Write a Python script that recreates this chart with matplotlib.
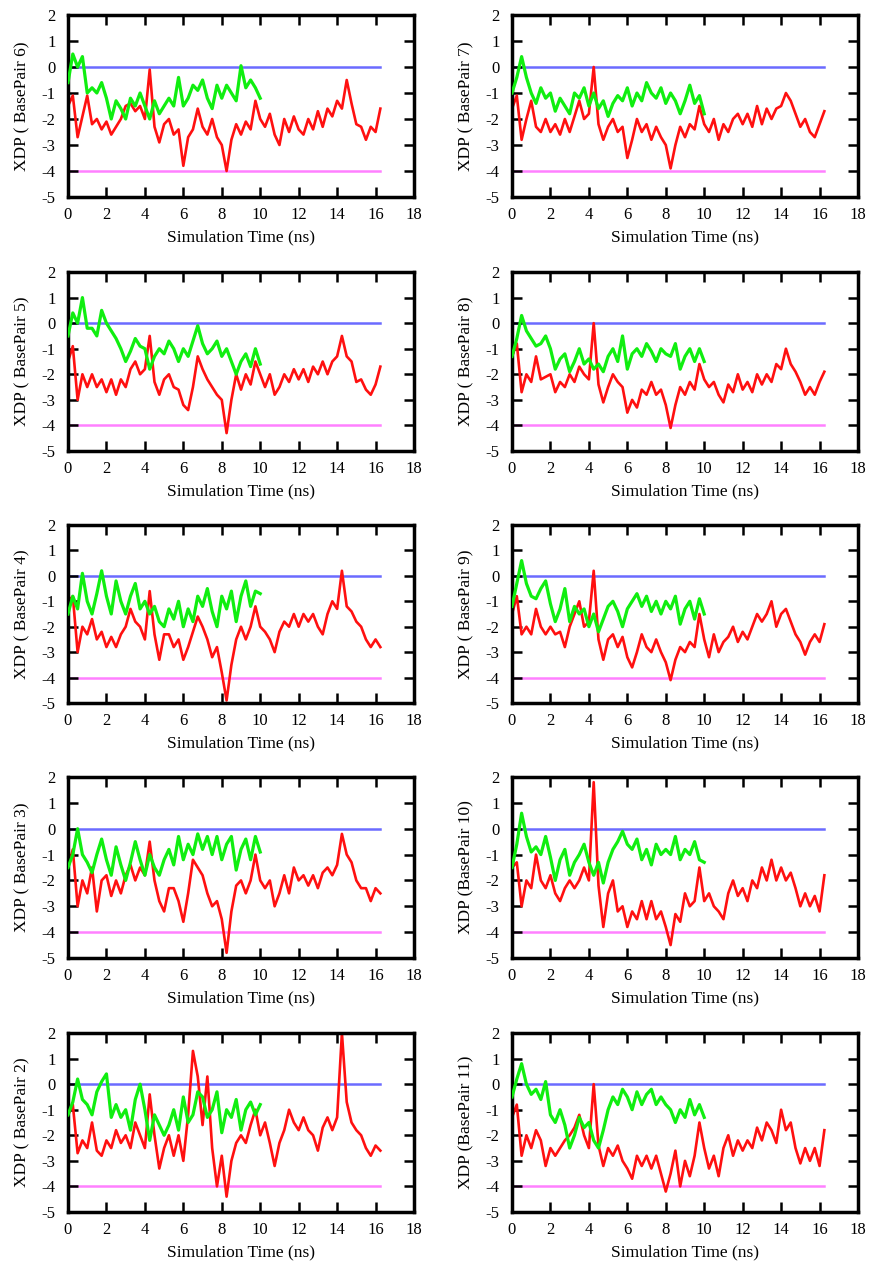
import numpy as np
import matplotlib
matplotlib.use('Agg')
import matplotlib.pyplot as plt

# PARAMS ----------------------------------------------------------------------
plt.rcParams['font.family'] = ['Liberation Serif', 'DejaVu Serif']
plt.rcParams['axes.unicode_minus'] = False   # plain hyphen minus like the original
plt.rc('xtick', labelsize=12)
plt.rc('ytick', labelsize=12)
plt.rc('axes', labelsize=12.5)
dt = 0.25          # sampling of the read-off traces (ns)
# END PARAMS ------------------------------------------------------------------

# XDP traces, one value every 0.25 ns
# red: 0 - 16.25 ns, green: 0 - 10 ns
red_bp6 = [-1.5, -1.1, -2.7, -1.9, -1.1, -2.2, -2.0, -2.4, -2.1, -2.6,
           -2.3, -2.0, -1.5, -1.4, -1.7, -1.5, -2.0, -0.1, -2.3, -2.9,
           -2.2, -2.0, -2.6, -2.4, -3.8, -2.7, -2.4, -1.6, -2.3, -2.6,
           -2.0, -2.7, -3.0, -4.0, -2.8, -2.2, -2.6, -2.1, -2.4, -1.3,
           -2.0, -2.3, -1.8, -2.6, -3.0, -2.0, -2.5, -1.9, -2.4, -2.6,
           -2.0, -2.4, -1.7, -2.3, -1.6, -1.9, -1.3, -1.6, -0.5, -1.4,
           -2.2, -2.3, -2.8, -2.3, -2.5, -1.6]
green_bp6 = [-0.6, 0.5, 0.0, 0.4, -1.0, -0.8, -1.0, -0.6, -1.2, -2.0,
             -1.3, -1.6, -2.0, -1.2, -1.5, -1.0, -1.5, -2.0, -1.3, -1.8,
             -1.5, -1.2, -1.5, -0.4, -1.5, -1.2, -0.7, -0.9, -0.5, -1.2,
             -1.6, -0.7, -1.2, -0.7, -1.0, -1.3, 0.05, -0.8, -0.5, -0.8,
             -1.2]

red_bp7 = [-1.6, -1.1, -2.8, -2.0, -1.3, -2.3, -2.5, -2.0, -2.5, -2.2,
           -2.6, -2.0, -2.5, -1.9, -1.3, -2.0, -1.8, 0.0, -2.2, -2.8,
           -2.3, -2.0, -2.5, -2.3, -3.5, -2.8, -2.0, -2.5, -2.2, -2.8,
           -2.3, -2.7, -3.0, -3.9, -3.0, -2.3, -2.7, -2.2, -2.4, -1.5,
           -2.2, -2.5, -2.0, -2.8, -2.2, -2.5, -2.0, -1.8, -2.2, -1.8,
           -2.3, -1.5, -2.2, -1.6, -2.0, -1.6, -1.5, -1.0, -1.3, -1.8,
           -2.3, -2.0, -2.5, -2.7, -2.2, -1.7]
green_bp7 = [-1.0, -0.4, 0.4, -0.4, -1.0, -1.4, -0.8, -1.2, -1.0, -1.7,
             -1.2, -1.5, -1.8, -1.0, -1.2, -0.8, -1.5, -1.0, -1.6, -1.3,
             -1.9, -1.4, -1.1, -1.3, -0.8, -1.5, -1.0, -1.3, -0.6, -1.0,
             -1.2, -0.8, -1.4, -1.0, -1.3, -1.8, -1.3, -0.7, -1.4, -1.1,
             -1.8]

red_bp5 = [-1.5, -0.9, -3.0, -2.0, -2.5, -2.0, -2.5, -2.2, -2.7, -2.2,
           -2.8, -2.2, -2.5, -1.8, -1.5, -2.0, -1.8, -0.5, -2.3, -2.8,
           -2.2, -2.0, -2.5, -2.6, -3.2, -3.4, -2.5, -1.3, -1.8, -2.2,
           -2.5, -2.8, -3.0, -4.3, -3.0, -2.0, -2.6, -2.0, -2.4, -1.5,
           -2.0, -2.5, -2.0, -2.8, -2.5, -2.0, -2.3, -1.8, -2.2, -1.8,
           -2.3, -1.7, -2.0, -1.5, -2.0, -1.5, -1.3, -0.5, -1.3, -1.5,
           -2.3, -2.2, -2.6, -2.8, -2.4, -1.7]
green_bp5 = [-0.5, 0.4, 0.0, 1.0, -0.2, -0.2, -0.5, 0.5, 0.0, -0.3,
             -0.6, -1.0, -1.5, -1.1, -0.6, -0.9, -1.0, -1.8, -1.3, -1.0,
             -1.2, -0.7, -1.0, -1.5, -1.0, -1.3, -0.7, -0.1, -0.8, -1.2,
             -1.0, -0.7, -1.3, -1.0, -1.5, -2.0, -1.5, -1.2, -1.7, -1.0,
             -1.6]

red_bp8 = [-1.3, -0.8, -2.7, -2.0, -2.3, -1.3, -2.2, -2.1, -2.0, -2.7,
           -2.3, -2.5, -2.0, -2.3, -1.7, -2.0, -2.2, 0.0, -2.4, -3.1,
           -2.5, -2.0, -2.3, -2.5, -3.5, -3.0, -3.3, -2.6, -2.8, -2.3,
           -2.8, -2.6, -3.2, -4.1, -3.2, -2.5, -2.8, -2.3, -2.6, -1.6,
           -2.2, -2.5, -2.3, -2.8, -3.1, -2.4, -2.7, -2.0, -2.6, -2.3,
           -2.7, -2.0, -2.4, -2.0, -2.3, -1.6, -1.8, -1.0, -1.6, -1.9,
           -2.3, -2.8, -2.5, -2.8, -2.3, -1.9]
green_bp8 = [-1.3, -0.6, 0.3, -0.3, -0.6, -0.9, -0.8, -0.5, -1.0, -1.8,
             -1.4, -1.2, -1.9, -1.5, -1.0, -1.6, -1.4, -1.8, -1.6, -1.9,
             -1.3, -1.0, -1.5, -0.5, -1.8, -1.2, -1.0, -1.3, -0.8, -1.1,
             -1.5, -1.0, -1.2, -1.3, -0.8, -1.8, -1.3, -1.0, -1.5, -1.0,
             -1.5]

red_bp4 = [-1.0, -0.8, -3.0, -2.0, -2.3, -1.7, -2.5, -2.2, -2.8, -2.4,
           -2.8, -2.3, -2.0, -1.3, -1.8, -2.0, -2.5, -0.6, -2.3, -3.3,
           -2.3, -2.3, -2.8, -2.5, -3.3, -2.8, -2.2, -1.6, -2.0, -2.5,
           -3.2, -2.8, -3.8, -4.9, -3.5, -2.5, -2.0, -2.5, -2.0, -1.2,
           -2.0, -2.2, -2.5, -3.0, -2.2, -1.8, -2.0, -1.5, -2.0, -1.5,
           -1.8, -1.5, -2.0, -2.3, -1.5, -1.0, -1.3, 0.2, -1.2, -1.4,
           -1.8, -2.0, -2.5, -2.8, -2.5, -2.8]
green_bp4 = [-1.5, -0.8, -1.3, 0.1, -1.0, -1.5, -0.7, 0.2, -0.8, -1.5,
             -0.2, -1.0, -1.5, -0.8, -0.3, -1.3, -1.0, -1.5, -1.2, -1.8,
             -2.0, -1.3, -1.7, -1.0, -2.0, -1.3, -1.8, -0.8, -1.2, -0.5,
             -1.4, -2.0, -0.8, -1.3, -0.6, -1.8, -0.8, -0.2, -1.2, -0.6,
             -0.7]

red_bp9 = [-1.5, -0.8, -2.3, -2.0, -2.3, -1.3, -2.0, -2.3, -2.0, -2.3,
           -2.2, -2.8, -2.0, -1.5, -1.0, -2.0, -1.8, 0.2, -2.5, -3.3,
           -2.5, -2.3, -2.8, -2.4, -3.2, -3.6, -3.0, -2.3, -2.8, -3.0,
           -2.5, -3.0, -3.4, -4.1, -3.3, -2.8, -3.0, -2.6, -2.8, -1.5,
           -2.5, -3.2, -2.3, -3.0, -2.6, -2.4, -2.0, -2.6, -2.2, -2.5,
           -2.0, -1.5, -1.8, -1.5, -1.0, -2.0, -1.5, -1.3, -1.8, -2.3,
           -2.6, -3.1, -2.6, -2.3, -2.6, -1.9]
green_bp9 = [-1.2, -0.3, 0.6, -0.3, -0.8, -0.9, -0.5, -0.2, -1.1, -1.8,
             -1.3, -0.5, -1.8, -1.2, -1.5, -1.3, -2.0, -1.5, -2.2, -1.7,
             -1.2, -1.0, -1.4, -2.0, -1.3, -1.0, -0.7, -1.2, -0.8, -1.4,
             -1.0, -1.5, -1.0, -1.3, -0.8, -1.9, -1.3, -1.0, -1.7, -0.9,
             -1.5]

red_bp3 = [-1.5, -0.8, -3.0, -2.0, -2.5, -1.5, -3.2, -2.0, -1.8, -2.6,
           -2.0, -2.5, -1.8, -1.4, -2.0, -1.5, -1.8, -0.5, -2.0, -2.8,
           -3.2, -2.3, -2.3, -2.8, -3.6, -2.5, -1.2, -1.5, -1.8, -2.5,
           -3.0, -2.8, -3.5, -4.8, -3.2, -2.2, -2.0, -2.5, -2.0, -1.0,
           -2.0, -2.3, -2.0, -3.0, -2.5, -1.8, -2.5, -1.5, -2.0, -1.8,
           -2.2, -1.8, -2.3, -1.7, -1.5, -1.8, -1.4, -0.2, -1.0, -1.3,
           -2.0, -2.3, -2.3, -2.8, -2.3, -2.5]
green_bp3 = [-1.5, -1.0, 0.0, -1.0, -1.3, -1.7, -1.0, -0.4, -1.2, -1.8,
             -0.7, -1.4, -2.0, -1.3, -0.5, -1.2, -1.8, -1.0, -1.5, -1.8,
             -1.2, -0.8, -1.4, -0.3, -1.2, -0.6, -1.0, -0.2, -0.8, -0.3,
             -1.0, -0.3, -1.2, -0.6, -0.3, -1.6, -0.8, -0.4, -1.2, -0.3,
             -0.9]

red_bp10 = [-1.5, -1.3, -3.0, -2.0, -2.3, -1.0, -2.0, -2.3, -1.8, -2.5,
            -2.8, -2.3, -2.0, -2.3, -2.0, -1.5, -2.0, 1.8, -2.2, -3.8,
            -2.5, -2.0, -3.2, -3.0, -3.8, -3.2, -3.5, -2.8, -3.5, -2.8,
            -3.5, -3.2, -3.8, -4.5, -3.3, -3.6, -2.5, -3.0, -2.8, -1.5,
            -2.8, -2.5, -3.0, -3.2, -3.5, -2.5, -2.0, -2.6, -2.3, -2.8,
            -2.0, -2.3, -1.5, -2.0, -1.2, -2.0, -1.5, -2.0, -1.7, -2.3,
            -3.0, -2.5, -3.0, -2.6, -3.2, -1.8]
green_bp10 = [-1.5, -0.6, 0.6, -0.3, -0.9, -0.7, -1.0, -0.3, -1.1, -2.0,
              -1.2, -0.8, -1.8, -1.3, -1.0, -0.6, -1.3, -1.8, -1.3, -2.1,
              -1.3, -0.8, -0.5, -0.1, -0.6, -0.8, -0.4, -1.2, -0.8, -1.4,
              -0.6, -1.0, -0.8, -1.0, -0.3, -1.2, -0.8, -1.0, -0.5, -1.2,
              -1.3]

red_bp2 = [-1.2, -0.8, -2.7, -2.2, -2.5, -1.5, -2.6, -2.8, -2.2, -2.5,
           -1.8, -2.3, -2.0, -2.5, -1.5, -2.0, -2.5, -0.4, -2.0, -3.3,
           -2.5, -2.0, -2.8, -2.0, -3.0, -1.2, 1.3, 0.3, -1.6, 0.3,
           -2.5, -4.0, -2.8, -4.4, -3.0, -2.3, -2.0, -2.3, -1.6, -1.0,
           -2.0, -1.5, -2.3, -3.2, -2.3, -1.8, -1.0, -1.5, -1.8, -1.3,
           -1.8, -2.0, -2.6, -1.7, -1.3, -1.8, -1.3, 2.0, -0.7, -1.5,
           -1.8, -2.0, -2.5, -2.8, -2.4, -2.6]
green_bp2 = [-1.2, -0.7, 0.2, -0.6, -0.8, -1.2, -0.3, 0.1, 0.4, -1.3,
             -0.8, -1.3, -1.0, -1.8, -0.6, 0.0, -1.0, -2.2, -1.2, -1.6,
             -2.0, -1.6, -1.0, -1.8, -0.5, -1.5, -1.2, -0.3, -0.5, -1.3,
             -1.0, -0.3, -1.9, -1.0, -1.3, -0.6, -1.8, -1.0, -0.7, -1.2,
             -0.8]

red_bp11 = [-1.3, -0.8, -2.8, -2.0, -2.5, -1.8, -2.2, -3.2, -2.5, -2.8,
            -2.5, -2.2, -2.0, -1.7, -1.2, -2.0, -2.5, 0.0, -2.4, -3.2,
            -2.5, -2.8, -2.4, -3.0, -3.3, -3.7, -2.8, -3.2, -2.8, -3.3,
            -2.8, -3.5, -4.2, -3.5, -2.6, -4.0, -3.0, -3.6, -2.8, -1.5,
            -2.5, -3.3, -2.8, -3.6, -2.5, -2.0, -2.8, -2.2, -2.6, -2.2,
            -2.5, -1.7, -2.2, -1.5, -1.8, -2.3, -1.0, -1.8, -1.5, -2.5,
            -3.1, -2.5, -3.0, -2.5, -3.2, -1.8]
green_bp11 = [-0.5, 0.2, 0.8, 0.0, -0.4, -0.2, -0.6, 0.1, -1.2, -1.5,
              -1.0, -1.6, -2.5, -2.0, -1.3, -1.7, -1.5, -2.2, -2.5, -1.8,
              -1.0, -0.5, -0.8, -0.2, -0.5, -1.0, -0.3, -0.8, -0.4, -0.2,
              -0.8, -0.5, -0.8, -1.0, -1.5, -1.0, -1.3, -0.6, -1.2, -0.8,
              -1.3]

# panel layout: (label, red, green) per row, left then right
panels = [
    [('XDP ( BasePair 6)', red_bp6, green_bp6), ('XDP ( BasePair 7)', red_bp7, green_bp7)],
    [('XDP ( BasePair 5)', red_bp5, green_bp5), ('XDP ( BasePair 8)', red_bp8, green_bp8)],
    [('XDP ( BasePair 4)', red_bp4, green_bp4), ('XDP ( BasePair 9)', red_bp9, green_bp9)],
    [('XDP ( BasePair 3)', red_bp3, green_bp3), ('XDP (BasePair 10)', red_bp10, green_bp10)],
    [('XDP ( BasePair 2)', red_bp2, green_bp2), ('XDP (BasePair 11)', red_bp11, green_bp11)],
]
ref_lines = [(0, '#6b6bff'), (-4, '#ff80ff')]
x_ticks = np.arange(0, 19, 2)
y_ticks = np.arange(-5, 3, 1)

W, H = 869, 1264
fig = plt.figure(figsize=(W / 100, H / 100), dpi=100)

col_left = [68, 512]
ax_w = 346
row_top = [15, 272, 525, 777, 1033]
row_bot = [197, 451, 703, 958, 1212]

for r, row in enumerate(panels):
    for c, (label, red, green) in enumerate(row):
        ax = fig.add_axes([col_left[c] / W, 1 - row_bot[r] / H,
                           ax_w / W, (row_bot[r] - row_top[r]) / H])
        t_red = np.arange(len(red)) * dt
        t_green = np.arange(len(green)) * dt
        for yv, col in ref_lines:
            ax.plot([0, t_red[-1]], [yv, yv], color=col, lw=1.8, zorder=1)
        ax.plot(t_red, red, color='#ff1010', lw=1.9, zorder=2)
        ax.plot(t_green, green, color='#10ee10', lw=2.3, zorder=3)

        ax.set_xlim(0, 18)
        ax.set_ylim(-5, 2)
        ax.set_xticks(x_ticks)
        ax.set_yticks(y_ticks)
        ax.tick_params(direction='in', length=7.5, width=1.8, top=True, right=True)
        ax.tick_params(axis='x', pad=7)
        ax.tick_params(axis='y', pad=9)
        for s in ax.spines.values():
            s.set_linewidth(2.5)
        ax.set_xlabel('Simulation Time (ns)', labelpad=5)
        ax.set_ylabel(label, labelpad=8)

fig.savefig('out.png', dpi=100)
